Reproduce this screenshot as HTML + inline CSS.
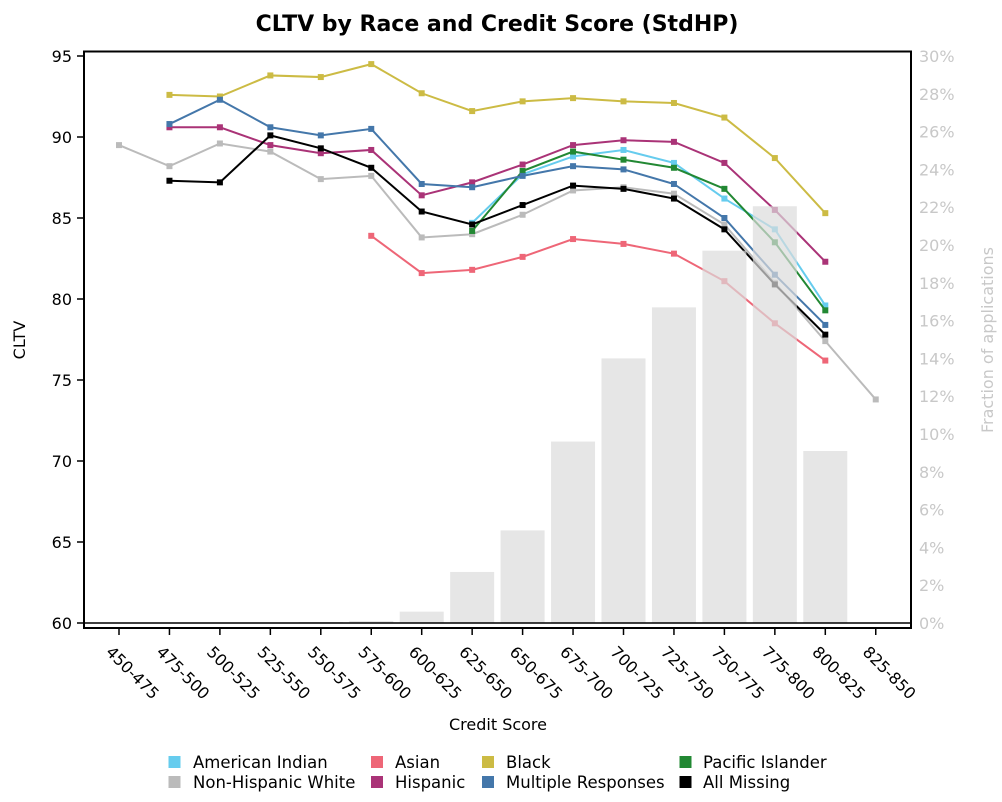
<!DOCTYPE html>
<html><head><meta charset="utf-8"><style>
body{margin:0;background:#fff;font-family:"DejaVu Sans","Liberation Sans",sans-serif;}
svg text{font-family:"DejaVu Sans","Liberation Sans",sans-serif;}
</style></head><body>
<svg id="chart" width="1002" height="798" viewBox="0 0 1002 798" xmlns="http://www.w3.org/2000/svg"></svg>
<script>
const categories=["450-475","475-500","500-525","525-550","550-575","575-600","600-625","625-650","650-675","675-700","700-725","725-750","750-775","775-800","800-825","825-850"];
const barValues=[0,0,0,0,0.05,0.1,0.6,2.7,4.9,9.6,14.0,16.7,19.7,22.05,9.1,0];
const seriesNames=["American Indian","Asian","Black","Pacific Islander","Non-Hispanic White","Hispanic","Multiple Responses","All Missing"];
const seriesColors=["#66ccee","#ee6677","#ccbb44","#228833","#bbbbbb","#aa3377","#4477aa","#000000"];
const americanIndian=[null,null,null,null,null,null,null,84.7,87.7,88.8,89.2,88.4,86.2,84.3,79.6,null];
const asian=[null,null,null,null,null,83.9,81.6,81.8,82.6,83.7,83.4,82.8,81.1,78.5,76.2,null];
const black=[null,92.6,92.5,93.8,93.7,94.5,92.7,91.6,92.2,92.4,92.2,92.1,91.2,88.7,85.3,null];
const pacificIslander=[null,null,null,null,null,null,null,84.2,87.9,89.1,88.6,88.1,86.8,83.5,79.3,null];
const nonHispanicWhite=[89.5,88.2,89.6,89.1,87.4,87.6,83.8,84.0,85.2,86.7,86.9,86.5,84.6,81.0,77.4,73.8];
const hispanic=[null,90.6,90.6,89.5,89.0,89.2,86.4,87.2,88.3,89.5,89.8,89.7,88.4,85.5,82.3,null];
const multipleResponses=[null,90.8,92.3,90.6,90.1,90.5,87.1,86.9,87.6,88.2,88.0,87.1,85.0,81.5,78.4,null];
const allMissing=[null,87.3,87.2,90.1,89.3,88.1,85.4,84.6,85.8,87.0,86.8,86.2,84.3,80.9,77.8,null];
const leftTicks=[60,65,70,75,80,85,90,95];
const rightTicks=[0,2,4,6,8,10,12,14,16,18,20,22,24,26,28,30];
const drawOrder=[4,1,2,5,0,3,6,7];
const seriesData=[americanIndian,asian,black,pacificIslander,nonHispanicWhite,hispanic,multipleResponses,allMissing];

const svg=document.getElementById('chart');
const NS='http://www.w3.org/2000/svg';
function mk(tag,attrs,parent){const e=document.createElementNS(NS,tag);for(const k in attrs)e.setAttribute(k,attrs[k]);(parent||svg).appendChild(e);return e;}
const xS=i=>119+i*50.45;
const yL=v=>623-(v-60)*16.2;
const yR=p=>623-p*18.9;

let t=mk('text',{x:497,y:31,'text-anchor':'middle','font-size':22,'font-weight':'bold',fill:'#000'});
t.textContent='CLTV by Race and Credit Score (StdHP)';



const linesG=mk('g',{});


drawOrder.forEach(si=>{
  const d=seriesData[si];let pts=[];
  d.forEach((v,i)=>{if(v!==null)pts.push([xS(i),yL(v)]);});
  const pl=mk('polyline',{points:pts.map(p=>p.join(',')).join(' '),fill:'none',stroke:seriesColors[si],'stroke-width':2},linesG);
  
  
  pts.forEach(p=>{
    const r=mk('rect',{x:p[0]-3,y:p[1]-3,width:6,height:6,fill:seriesColors[si]},linesG);
    
    
  });
});

barValues.forEach((v,i)=>{
  if(v<=0)return;
  const y=yR(v);
  const b=mk('rect',{x:xS(i)-22,y:y,width:44,height:623-y,fill:'#dcdcdc','fill-opacity':0.7});
  
  
});

let zl=mk('line',{x1:84,x2:911,y1:623,y2:623,stroke:'#000','stroke-width':1.5});



let fr=mk('rect',{x:84,y:51.5,width:827,height:576.5,fill:'none',stroke:'#000','stroke-width':2});



leftTicks.forEach(v=>{
  const y=yL(v);
  const l=mk('line',{x1:77,x2:84,y1:y,y2:y,stroke:'#000','stroke-width':1.5});
  
  
  const tx=mk('text',{x:72,y:y+6,'text-anchor':'end','font-size':16,fill:'#000'});
  tx.textContent=v;
  
  
});
rightTicks.forEach(p=>{
  const y=yR(p);
  const tx=mk('text',{x:919,y:y+6,'font-size':16,fill:'#c8c8c8'});
  tx.textContent=p+'%';
  
  
});
categories.forEach((c,i)=>{
  const x=xS(i);
  const l=mk('line',{x1:x,x2:x,y1:628,y2:635,stroke:'#000','stroke-width':1.5});
  
  
  const tx=mk('text',{x:x-14,y:653,'font-size':16,fill:'#000',transform:`rotate(45 ${x-14} 653)`});
  tx.textContent=c;
  
  
});
let xt=mk('text',{x:498,y:730,'text-anchor':'middle','font-size':16,fill:'#000'});
xt.textContent='Credit Score';


let yt=mk('text',{x:25,y:340,'text-anchor':'middle','font-size':16,fill:'#000',transform:'rotate(-90 25 340)'});
yt.textContent='CLTV';


let y2=mk('text',{x:993,y:340,'text-anchor':'middle','font-size':16,fill:'#c8c8c8',transform:'rotate(-90 993 340)'});
y2.textContent='Fraction of applications';



const legX=[174.5,377,488,685.5],legTX=[193,395,506,703];
seriesNames.forEach((name,si)=>{
  const col=si%4,row=Math.floor(si/4);
  const y=762+row*20;
  const g=mk('g',{});
  
  
  mk('rect',{x:legX[col]-6,y:y-6,width:12,height:12,fill:seriesColors[si]},g);
  const tx=mk('text',{x:legTX[col],y:y+6,'font-size':16.5,fill:'#000'},g);
  tx.textContent=name;
});
</script>
</body></html>
